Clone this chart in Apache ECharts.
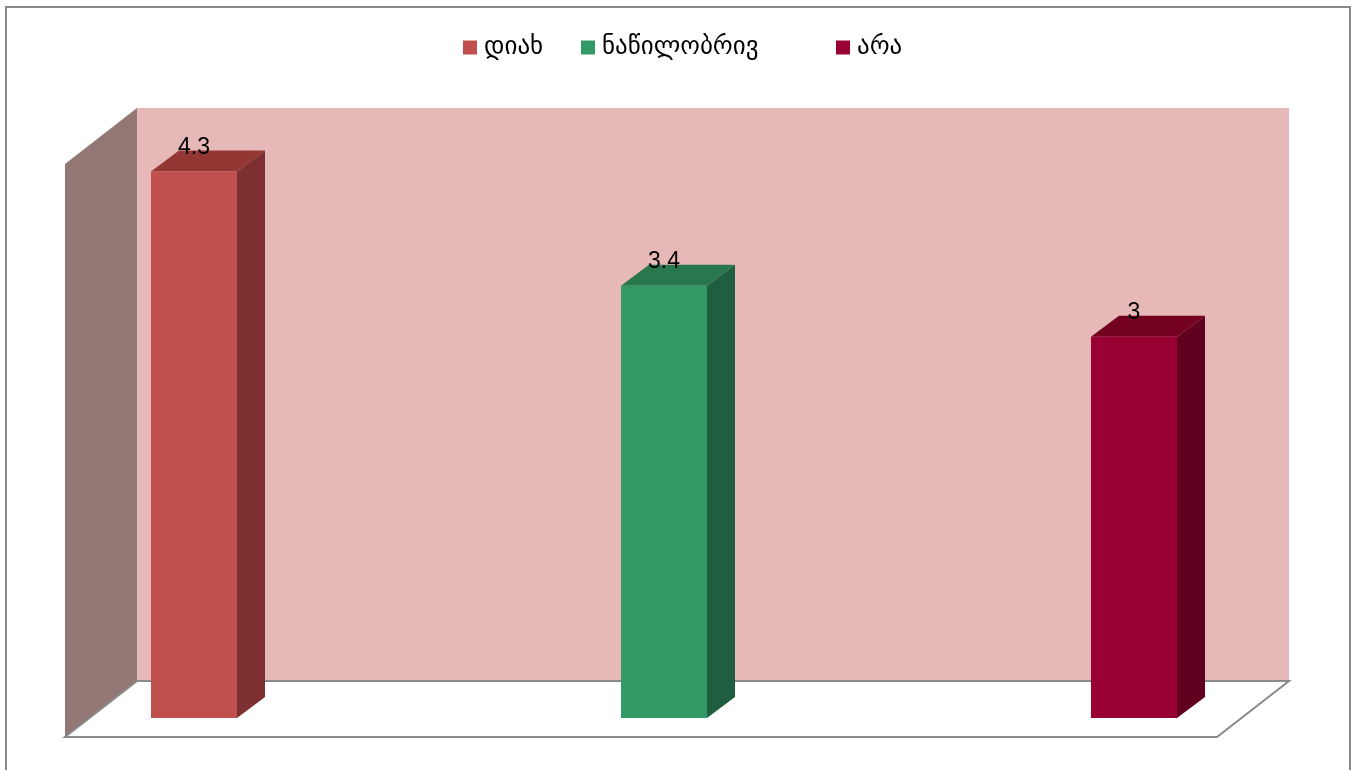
<!DOCTYPE html>
<html>
<head>
<meta charset="utf-8">
<script src="https://cdn.jsdelivr.net/npm/echarts@6/dist/echarts.min.js"></script>
<style>
  html, body { margin: 0; padding: 0; background: #fff; }
  #chart { width: 1356px; height: 770px; }
</style>
</head>
<body>
<div id="chart"></div>
<script>
// data
var categories = ['დიახ', 'ნაწილობრივ', 'არა'];
var values = [4.3, 3.4, 3];
var frontColors = ['#C0504D', '#339966', '#990033'];
var sideColors = ['#7D302F', '#1F5E3F', '#620020'];
var topColors = ['#943634', '#28774F', '#73001F'];

var chart = echarts.init(document.getElementById('chart'));
window.addEventListener('resize', function () {
  chart.resize();
});

// 3d box: front face + right side + top
function renderBar(params, api) {
  var i = params.seriesIndex - 1;
  var base = api.coord([api.value(0), 0]);
  var top = api.coord([api.value(0), api.value(1)]);
  var w = 86, dx = 28, dy = 21;
  var x0 = base[0] - w / 2, x1 = base[0] + w / 2;
  var by = base[1], ty = top[1];
  return {
    type: 'group',
    children: [
      { type: 'polygon', shape: { points: [[x1, ty], [x1 + dx, ty - dy], [x1 + dx, by - dy], [x1, by]] },
        style: { fill: sideColors[i] } },
      { type: 'polygon', shape: { points: [[x0, ty], [x1, ty], [x1 + dx, ty - dy], [x0 + dx, ty - dy]] },
        style: { fill: topColors[i] } },
      { type: 'rect', shape: { x: x0, y: ty, width: w, height: by - ty },
        style: { fill: frontColors[i] } },
      { type: 'text', x: base[0], y: ty - 24,
        style: { text: String(api.value(1)), fill: '#000', font: '23px "Liberation Sans"', align: 'center', verticalAlign: 'middle' } }
    ]
  };
}

// walls and floor, placed around the grid
function renderWalls(params, api) {
  var cs = params.coordSys;
  var bx0 = cs.x - 57, bx1 = cs.x + cs.width + 155;
  var btop = cs.y - 38, bbot = cs.y + cs.height - 37;
  var ddx = 72, ddy = 56;
  return {
    type: 'group',
    children: [
      { type: 'rect', shape: { x: bx0, y: btop, width: bx1 - bx0, height: bbot - btop },
        style: { fill: '#E6B8B7' } },
      { type: 'polygon', shape: { points: [[bx0 - ddx, btop + ddy], [bx0, btop], [bx0, bbot], [bx0 - ddx, bbot + ddy]] },
        style: { fill: '#937775' } },
      { type: 'polygon', shape: { points: [[bx0 - ddx, bbot + ddy], [bx0, bbot], [bx1, bbot], [bx1 - ddx, bbot + ddy]] },
        style: { fill: '#fff', stroke: '#8a8a8a', lineWidth: 2 } }
    ]
  };
}

var series = [{
  name: 'walls',
  type: 'custom',
  silent: true,
  renderItem: renderWalls,
  data: [[0, 0]],
  z: 1
}];
categories.forEach(function (name, i) {
  series.push({
    name: name,
    type: 'custom',
    renderItem: renderBar,
    itemStyle: { color: frontColors[i] },
    data: [[i, values[i]]],
    z: 2
  });
});

var legendLeft = [463, 581, 836];
var option = {
  animation: false,
  grid: { left: 194, right: 222, top: 146, bottom: 52 },
  xAxis: {
    type: 'category',
    data: categories,
    boundaryGap: false,
    show: false
  },
  yAxis: {
    type: 'value',
    min: 0,
    max: 4.5,
    show: false
  },
  legend: categories.map(function (name, i) {
    return {
      data: [name],
      left: legendLeft[i],
      top: 35,
      padding: 0,
      icon: 'rect',
      itemWidth: 14,
      itemHeight: 14,
      itemGap: 0,
      textStyle: { fontSize: 25, color: '#000', fontFamily: 'DejaVu Sans', padding: [0, 0, 0, 2] }
    };
  }),
  graphic: [{
    type: 'rect',
    shape: { x: 6, y: 7, width: 1344, height: 800 },
    style: { fill: 'none', stroke: '#888', lineWidth: 2 },
    silent: true
  }],
  series: series
};
chart.setOption(option);
</script>
</body>
</html>
